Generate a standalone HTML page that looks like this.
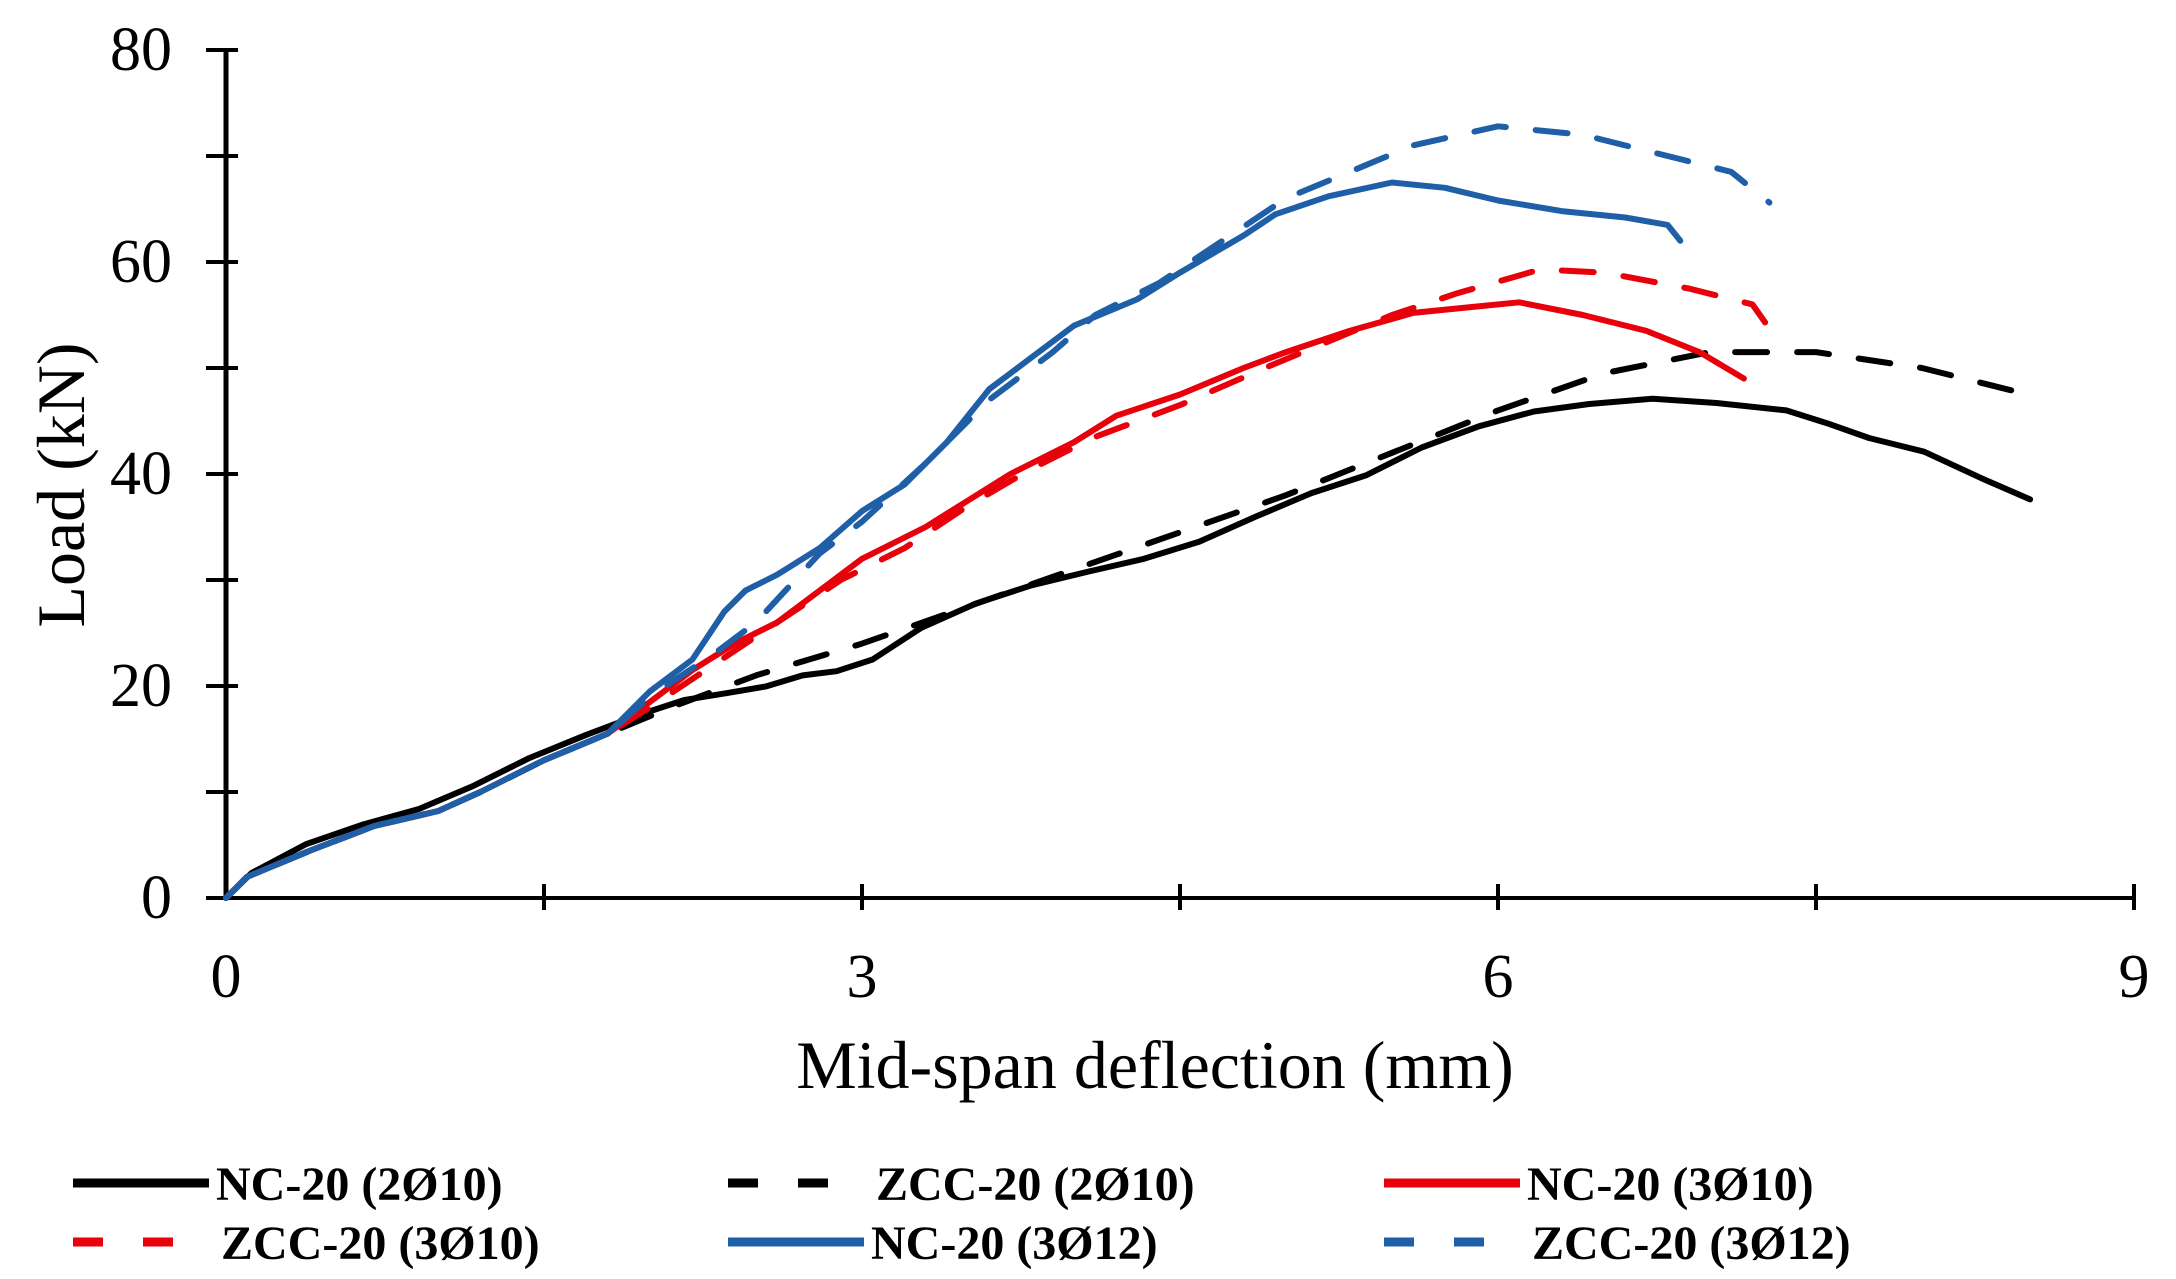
<!DOCTYPE html>
<html><head><meta charset="utf-8">
<style>
body{margin:0;background:#fff;}
svg{display:block;}
text{font-family:"Liberation Serif",serif;fill:#000;}
</style></head>
<body>
<svg id="chart" width="2176" height="1279" viewBox="0 0 2176 1279">
<g id="axes"></g>
<g id="series"></g>
<text x="1155" y="1088" text-anchor="middle" font-size="68">Mid-span deflection (mm)</text>
<text transform="translate(84,485) rotate(-90)" text-anchor="middle" font-size="68">Load (kN)</text>
<g id="legend"></g>
</svg>
<script>
const xTicks=[0,3,6,9];
const yTicks=[0,20,40,60,80];
const seriesNames=["NC-20 (2Ø10)","ZCC-20 (2Ø10)","NC-20 (3Ø10)","ZCC-20 (3Ø10)","NC-20 (3Ø12)","ZCC-20 (3Ø12)"];
const early=[[0,0],[0.1,2],[0.4,4.5],[0.7,6.8],[1.0,8.2],[1.2,10],[1.5,13],[1.8,15.5]];
const nc2x10=[[0,0],[0.12,2.35],[0.38,5.1],[0.64,6.9],[0.91,8.4],[1.17,10.6],[1.43,13.2],[1.70,15.4],[1.96,17.36],[2.16,18.67],[2.36,19.32],[2.55,19.97],[2.72,21.0],[2.88,21.4],[3.05,22.5],[3.28,25.5],[3.54,27.8],[3.80,29.5],[4.07,30.8],[4.33,32.0],[4.59,33.6],[4.86,36.0],[5.12,38.2],[5.38,39.9],[5.64,42.5],[5.91,44.5],[6.17,45.9],[6.43,46.6],[6.73,47.1],[7.03,46.7],[7.36,46.0],[7.55,44.8],[7.75,43.4],[8.01,42.1],[8.28,39.6],[8.51,37.6]];
const zcc2x10=early.concat([[2.1,18],[2.5,21],[3.0,24],[3.5,27.5],[4.0,31],[4.5,34.5],[5.0,38],[5.5,42],[6.0,46],[6.5,49.5],[7.0,51.5],[7.5,51.5],[8.0,50],[8.5,47.5]]);
const nc3x10=early.concat([[2.0,18.5],[2.2,21.5],[2.4,24],[2.6,26],[2.8,29],[3.0,32],[3.3,35],[3.5,37.5],[3.7,40],[4.0,43],[4.2,45.5],[4.5,47.5],[4.8,50],[5.0,51.5],[5.3,53.5],[5.6,55.2],[5.9,55.8],[6.1,56.2],[6.4,55],[6.7,53.5],[6.95,51.5],[7.16,49]]);
const zcc3x10=early.concat([[2.0,18],[2.3,22],[2.6,26],[2.9,30],[3.2,33],[3.5,37],[3.8,40.5],[4.1,43.5],[4.5,46.5],[4.9,50],[5.2,52.5],[5.5,55],[5.8,57],[6.2,59.3],[6.5,59],[6.9,57.5],[7.2,56],[7.26,54.3]]);
const nc3x12=early.concat([[2.0,19.5],[2.2,22.5],[2.35,27],[2.45,29],[2.6,30.5],[2.8,33],[3.0,36.5],[3.2,39],[3.4,43],[3.6,48],[3.8,51],[4.0,54],[4.3,56.5],[4.5,59],[4.8,62.5],[4.95,64.5],[5.2,66.2],[5.5,67.5],[5.75,67],[6.0,65.8],[6.3,64.8],[6.6,64.2],[6.8,63.5],[6.86,62]]);
const zcc3x12=early.concat([[2.0,19],[2.3,23],[2.5,26],[2.8,32.5],[3.0,35.5],[3.3,41],[3.6,47],[3.9,51.5],[4.1,55],[4.4,58],[4.7,62],[5.0,66],[5.3,68.5],[5.6,71],[6.0,72.8],[6.4,72],[6.8,70],[7.1,68.5],[7.28,65.6]]);
const allSeries=[nc2x10,zcc2x10,nc3x10,zcc3x10,nc3x12,zcc3x12];
const colors=["#000","#000","#e8000b","#e8000b","#1f5fa8","#1f5fa8"];
const dashed=[false,true,false,true,false,true];

const X0=226,X1=2134,Y0=898,Y1=50;
const sx=v=>X0+(v-0)/(9-0)*(X1-X0);
const sy=v=>Y0-(v-0)/(80-0)*(Y0-Y1);
const NS="http://www.w3.org/2000/svg";
function mk(tag,attrs,parent){const e=document.createElementNS(NS,tag);for(const k in attrs)e.setAttribute(k,attrs[k]);parent.appendChild(e);return e;}

const axes=document.getElementById('axes');
let e=mk('line',{x1:X0,y1:Y1,x2:X0,y2:Y0,stroke:'#000','stroke-width':5},axes);


e=mk('line',{x1:X0,y1:Y0,x2:X1,y2:Y0,stroke:'#000','stroke-width':4},axes);


for(let v=0;v<=80;v+=10){
  e=mk('line',{x1:X0-20,y1:sy(v),x2:X0+12,y2:sy(v),stroke:'#000','stroke-width':4},axes);
  
  
}
for(let v=1.5;v<=9;v+=1.5){
  e=mk('line',{x1:sx(v),y1:Y0-14,x2:sx(v),y2:Y0+12,stroke:'#000','stroke-width':4},axes);
  
  
}
yTicks.forEach(v=>{
  e=mk('text',{x:172,y:sy(v)+20,'text-anchor':'end','font-size':62},axes);
  e.textContent=v;
  
  
});
xTicks.forEach(v=>{
  e=mk('text',{x:sx(v),y:997,'text-anchor':'middle','font-size':62},axes);
  e.textContent=v;
  
  
});

const sg=document.getElementById('series');
allSeries.forEach((s,i)=>{
  const d=s.map((p,j)=>(j?'L':'M')+sx(p[0]).toFixed(1)+','+sy(p[1]).toFixed(1)).join(' ');
  const p=mk('path',{d:d,fill:'none',stroke:colors[i],'stroke-width':6,'stroke-linejoin':'round','stroke-linecap':'round'},sg);
  if(dashed[i]) p.setAttribute('stroke-dasharray','32 30');
  
  
});

const lg=document.getElementById('legend');
const lx=[73,728,1384],ly=[1183,1242];
seriesNames.forEach((n,i)=>{
  const c=i%3,r=Math.floor(i/3);
  const g=mk('g',{},lg);
  
  
  const l=mk('line',{x1:lx[c],y1:ly[r],x2:lx[c]+(dashed[i]?110:136),y2:ly[r],stroke:colors[i],'stroke-width':9},g);
  if(dashed[i]) l.setAttribute('stroke-dasharray','30 40');
  
  
  const t=mk('text',{x:lx[c]+(dashed[i]?148:143),y:ly[r]+17,'font-size':48,'font-weight':'bold'},g);
  t.textContent=n;
  
  
});
</script>
</body></html>
